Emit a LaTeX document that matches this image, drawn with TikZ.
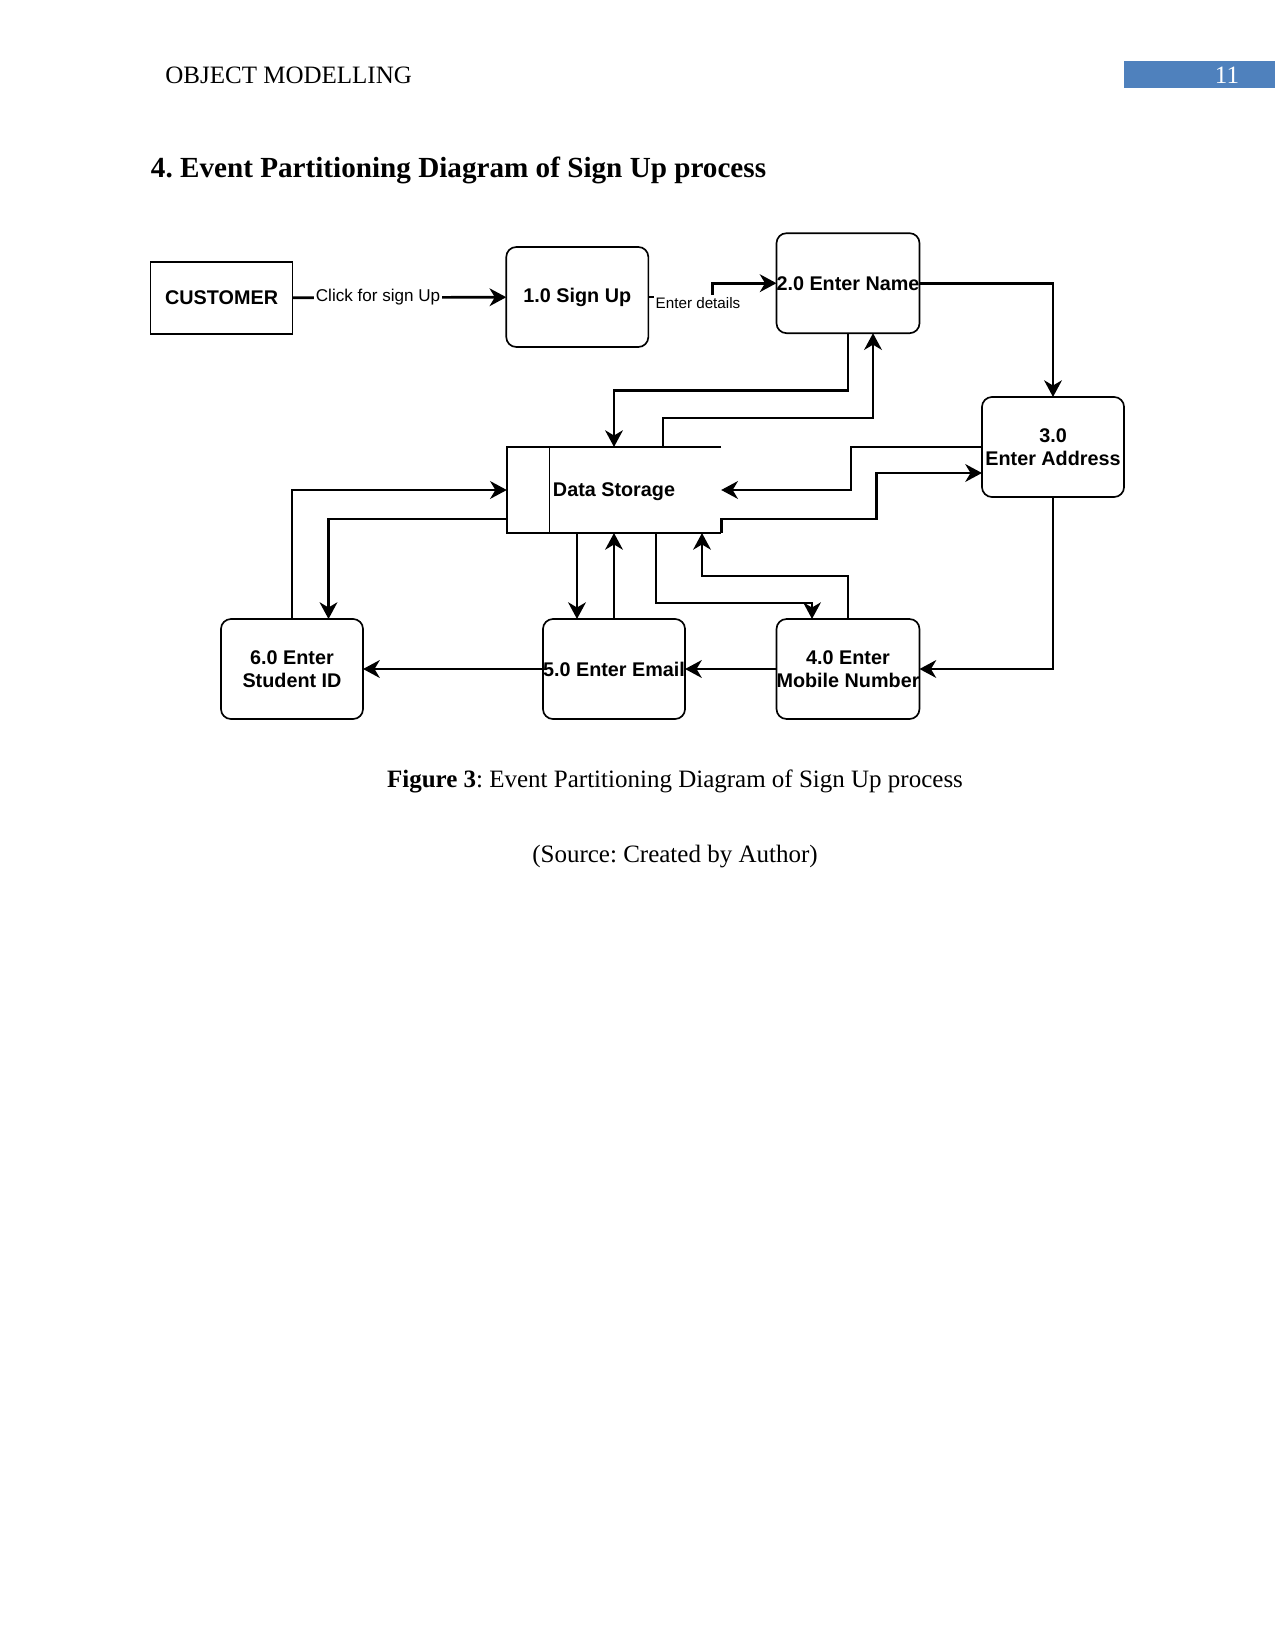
\documentclass[tikz,border=0pt]{standalone}
\usepackage{fontspec}
\setmainfont{Liberation Serif}
\newfontfamily\diafont{Liberation Sans}
\usepackage{tikz}
\usetikzlibrary{arrows.meta,calc}
\frenchspacing
\definecolor{hdrblue}{HTML}{4F81BD}
\tikzset{
  proc/.style={draw,rounded corners=4.8pt,line width=0.8pt,minimum width=68.2pt,minimum height=48pt,
    inner sep=0pt,outer sep=0pt,align=center,font=\diafont\bfseries\fontsize{9.5}{11}\selectfont},
  ext/.style={proc,sharp corners,minimum height=34.6pt},
  dstore/.style={minimum width=102.9pt,minimum height=41.3pt,inner sep=0pt,outer sep=0pt,text depth=0pt,
    font=\diafont\bfseries\fontsize{9.5}{11}\selectfont},
  rim/.style={line width=0.8pt},
  flow/.style={-{Stealth[length=8pt,width=8.5pt,inset=2.5pt]},line width=1.3pt},
  lbl/.style={fill=white,inner sep=1pt,font=\diafont\fontsize{8.2}{10}\selectfont},
  hdr/.style={inner sep=0pt,font=\fontsize{12}{14}\selectfont},
}
\begin{document}
\begin{tikzpicture}[x=0.48pt,y=-0.48pt]
        \useasboundingbox (0,0) rectangle (1275,1651);
        \node[hdr,anchor=west] (head) at (165,75.7) {OBJECT MODELLING};
        \fill[hdrblue] (1124.4,61) rectangle (1275,88.4);
        \node[hdr,text=white] (pg) at (1227,75.7) {11};
        \node[inner sep=0pt,anchor=west,font=\bfseries\fontsize{14}{16}\selectfont] (title) at (150.5,170.4)
          {4. Event Partitioning Diagram of Sign Up process};
        \node[ext] (cust) at (221.6,298) {CUSTOMER};
        \node[proc] (s1) at (577.3,297) {1.0 Sign Up};
        \node[proc] (s2) at (848,283.2) {2.0 Enter Name};
        \node[proc] (s3) at (1053,447) {3.0\\Enter Address};
        \node[dstore] (store) at (614,490) {Data Storage};
        \node[proc] (s4) at (848,669) {4.0 Enter\\Mobile Number};
        \node[proc] (s5) at (614,669) {5.0 Enter Email};
        \node[proc] (s6) at (292,669) {6.0 Enter\\Student ID};
        \draw[rim] (store.north east) -- (store.north west) -- (store.south west) -- (store.south east);
        \draw[rim] ($(store.north west)+(42.6,0)$) -- ($(store.south west)+(42.6,0)$);
        \draw[flow] (cust) -- node[lbl,pos=0.4] {Click for sign Up} (s1);
        \draw[flow] (s1.east) -- ++(64.5,0) |- (s2.west);
        \node[lbl,font=\diafont\fontsize{7.3}{9}\selectfont] (ed) at (698,303) {Enter details};
        \draw[flow] (s2.east) -| (s3.north);
        \draw[flow] (s2.south) -- ++(0,57) -| (store.north);
        \draw[flow] ($(store.north)+(49,0)$) -- ++(0,-29) -| ($(s2.south)+(25,0)$);
        \draw[flow] (s3.west) -- ++(-131,0) |- (store.east);
        \draw[flow] (store.south east) -- ++(0,-14) -- ++(155,0) |- ($(s3.west)+(0,26)$);
        \draw[flow] (s3.south) |- (s4.east);
        \draw[flow] (s4) -- (s5);
        \draw[flow] (s5) -- (s6);
        \draw[flow] ($(store.south)+(-37,0)$) -- ($(s5.north)+(-37,0)$);
        \draw[flow] (s5.north) -- (store.south);
        \draw[flow] ($(store.south)+(42,0)$) -- ++(0,70) -| ($(s4.north)+(-36,0)$);
        \draw[flow] (s4.north) -- ++(0,-43) -| ($(store.south)+(88,0)$);
        \draw[flow] (s6.north) |- (store.west);
        \draw[flow] ($(store.west)+(0,29)$) -| ($(s6.north)+(36.5,0)$);
        \node[hdr] (cap) at (675,781) {\textbf{Figure 3}: Event Partitioning Diagram of Sign Up process};
        \node[hdr] (src) at (675,857) {(Source: Created by Author)};
      \end{tikzpicture}
\end{document}
